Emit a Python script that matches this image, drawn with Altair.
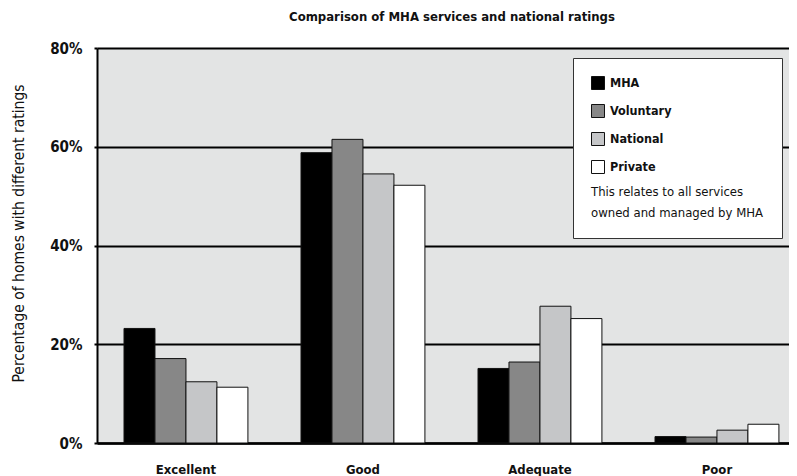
import altair as alt
import pandas as pd

categories = ["Excellent", "Good", "Adequate", "Poor"]
series = ["MHA", "Voluntary", "National", "Private"]
mha = [23.2, 58.8, 15.1, 1.3]
voluntary = [17.1, 61.5, 16.4, 1.2]
national = [12.4, 54.5, 27.7, 2.6]
private = [11.3, 52.2, 25.2, 3.8]
colors = ["#000000", "#878787", "#c5c6c8", "#ffffff"]
y_ticks = [0, 20, 40, 60, 80]
note = ["This relates to all services", "owned and managed by MHA"]

rows = []
for name, vals in zip(series, [mha, voluntary, national, private]):
    for c, v in zip(categories, vals):
        rows.append({"rating": c, "sector": name, "pct": v})
df = pd.DataFrame(rows)

FONT = "DejaVu Sans Condensed, sans-serif"

chart = alt.Chart(df).mark_bar(stroke="#111111", strokeWidth=1).encode(
    x=alt.X("rating:N", sort=categories,
            scale=alt.Scale(paddingInner=0.3, paddingOuter=0.1048, align=0.728),
            axis=alt.Axis(title=None, labelAngle=0, ticks=False, grid=False,
                          labelPadding=30, labelBaseline="alphabetic",
                          labelFontSize=13, labelFontWeight="bold", labelColor="#111111",
                          domainColor="#000000", domainWidth=2.5)),
    xOffset=alt.XOffset("sector:N", sort=series,
                        scale=alt.Scale(paddingInner=0, paddingOuter=0)),
    y=alt.Y("pct:Q", scale=alt.Scale(domain=[0, 80], nice=False),
            axis=alt.Axis(values=y_ticks, labelExpr="datum.value + '%'",
                          title="Percentage of homes with different ratings",
                          titleFontSize=15.5, titleFontWeight="normal", titleColor="#111111",
                          titleX=-79, titleY=185, titleBaseline="middle", titleAngle=270,
                          labelFontSize=15, labelFontWeight="bold", labelColor="#111111",
                          labelPadding=12, tickSize=3, tickColor="#000000", tickWidth=2,
                          domainColor="#000000", domainWidth=2,
                          grid=True, gridColor="#000000", gridWidth=2, gridOpacity=1)),
    fill=alt.Fill("sector:N", sort=series,
                  scale=alt.Scale(domain=series, range=colors),
                  legend=alt.Legend(title=note, titleOrient="bottom", titleAnchor="start",
                                    titleFontSize=13, titleFontWeight="normal",
                                    titleColor="#111111", titleLineHeight=21,
                                    titlePadding=10, titleLimit=400,
                                    orient="none", legendX=476, legendY=10,
                                    fillColor="#ffffff", strokeColor="#333333",
                                    padding=18, rowPadding=10,
                                    symbolType="square", symbolSize=169,
                                    symbolStrokeColor="#111111", symbolStrokeWidth=1,
                                    labelFontSize=12.5, labelFontWeight="bold",
                                    labelColor="#111111", labelOffset=5)),
).properties(
    width=692,
    height=395,
    title=alt.TitleParams("Comparison of MHA services and national ratings",
                          anchor="middle", frame="group", baseline="alphabetic",
                          offset=7, dx=9, fontSize=13, fontWeight="bold",
                          color="#111111"),
    autosize=alt.AutoSizeParams(type="none"),
    padding={"left": 89, "top": 40, "right": 0, "bottom": 35},
).configure(font=FONT).configure_view(fill="#e3e4e4", stroke="transparent")

chart.save("out.html", embed_options={"renderer": "svg", "actions": False})
